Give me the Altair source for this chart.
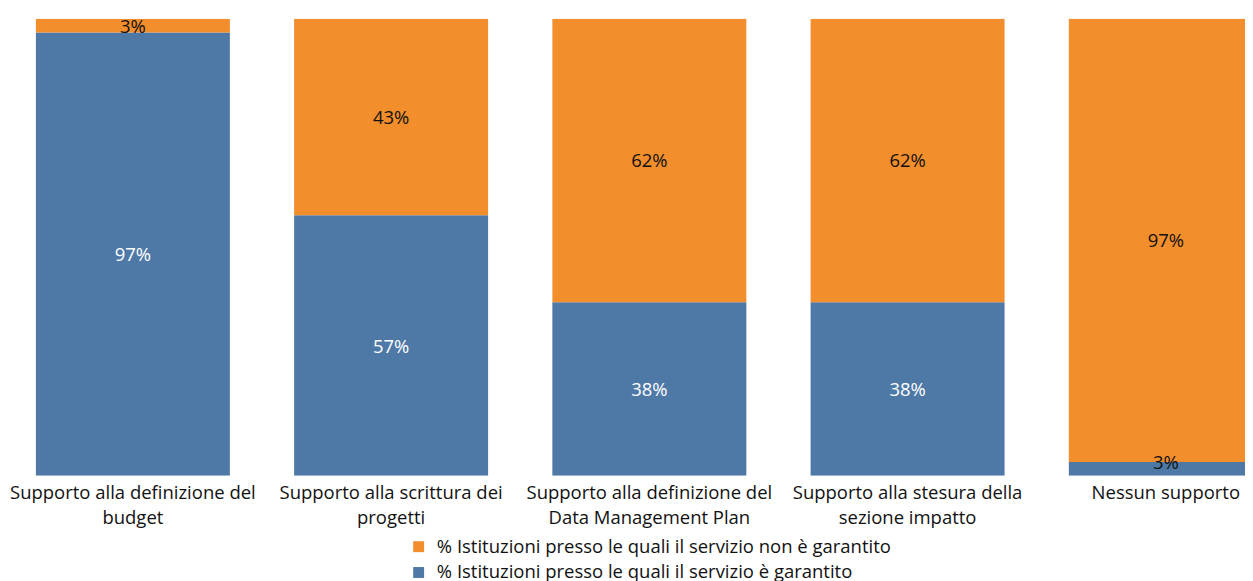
import altair as alt
import pandas as pd

categories = [
    "Supporto alla definizione del|budget",
    "Supporto alla scrittura dei|progetti",
    "Supporto alla definizione del|Data Management Plan",
    "Supporto alla stesura della|sezione impatto",
    "Nessun supporto",
]
garantito = [97, 57, 38, 38, 3]
non_garantito = [3, 43, 62, 62, 97]
series = [
    "% Istituzioni presso le quali il servizio non è garantito",
    "% Istituzioni presso le quali il servizio è garantito",
]
colors = ["#f28e2b", "#4e79a7"]

rows = []
for c, g, n in zip(categories, garantito, non_garantito):
    rows.append({"cat": c, "serie": series[1], "val": g, "ord": 0})
    rows.append({"cat": c, "serie": series[0], "val": n, "ord": 1})
df = pd.DataFrame(rows)

FONT = "Open Sans"
FS = 18.6
TXT = "#111"

base = alt.Chart(df).transform_stack(
    stack="val", as_=["y0", "y1"], groupby=["cat"], sort=[alt.SortField("ord")]
).transform_calculate(
    mid="datum.ord == 0 && datum.val < 10 ? datum.y1 : (datum.y0 + datum.y1) / 2",
    lab="datum.val + '%'",
)

x = alt.X(
    "cat:N",
    sort=categories,
    scale=alt.Scale(range=[0, 1291], paddingInner=0.2488, paddingOuter=0.108),
    axis=alt.Axis(
        title=None, labelAngle=0, ticks=False, domain=False,
        labelExpr="split(datum.label, '|')",
        labelFontSize=FS, labelFont=FONT, labelColor=TXT, labelLimit=0,
        labelPadding=8, labelLineHeight=25,
    ),
)
yscale = alt.Scale(domain=[0, 100], nice=False)

bars = base.mark_bar(clip=True).encode(
    x=x,
    y=alt.Y("y0:Q", scale=yscale, axis=None),
    y2="y1:Q",
    color=alt.Color(
        "serie:N",
        scale=alt.Scale(domain=series, range=colors),
        legend=alt.Legend(
            title=None, orient="none", legendX=404, legendY=522,
            symbolType="square", symbolSize=121, symbolStrokeWidth=0,
            labelFontSize=FS, labelFont=FONT, labelColor=TXT, labelLimit=0,
            labelOffset=9, padding=0, rowPadding=7,
        ),
    ),
)

text = base.mark_text(fontSize=FS, font=FONT, clip=True, dy=1).encode(
    x=x,
    y=alt.Y("mid:Q", scale=yscale, axis=None),
    text="lab:N",
    color=alt.condition("datum.ord == 0 && datum.val >= 10", alt.value("white"), alt.value(TXT)),
)

chart = alt.layer(bars, text).properties(
    width=1245, height=460,
    autosize=alt.AutoSizeParams(type="none"),
    padding={"left": 0, "top": 9, "right": 0, "bottom": 104},
).configure_view(stroke=None)

chart.save("out.html", embed_options={"renderer": "svg", "actions": False})
